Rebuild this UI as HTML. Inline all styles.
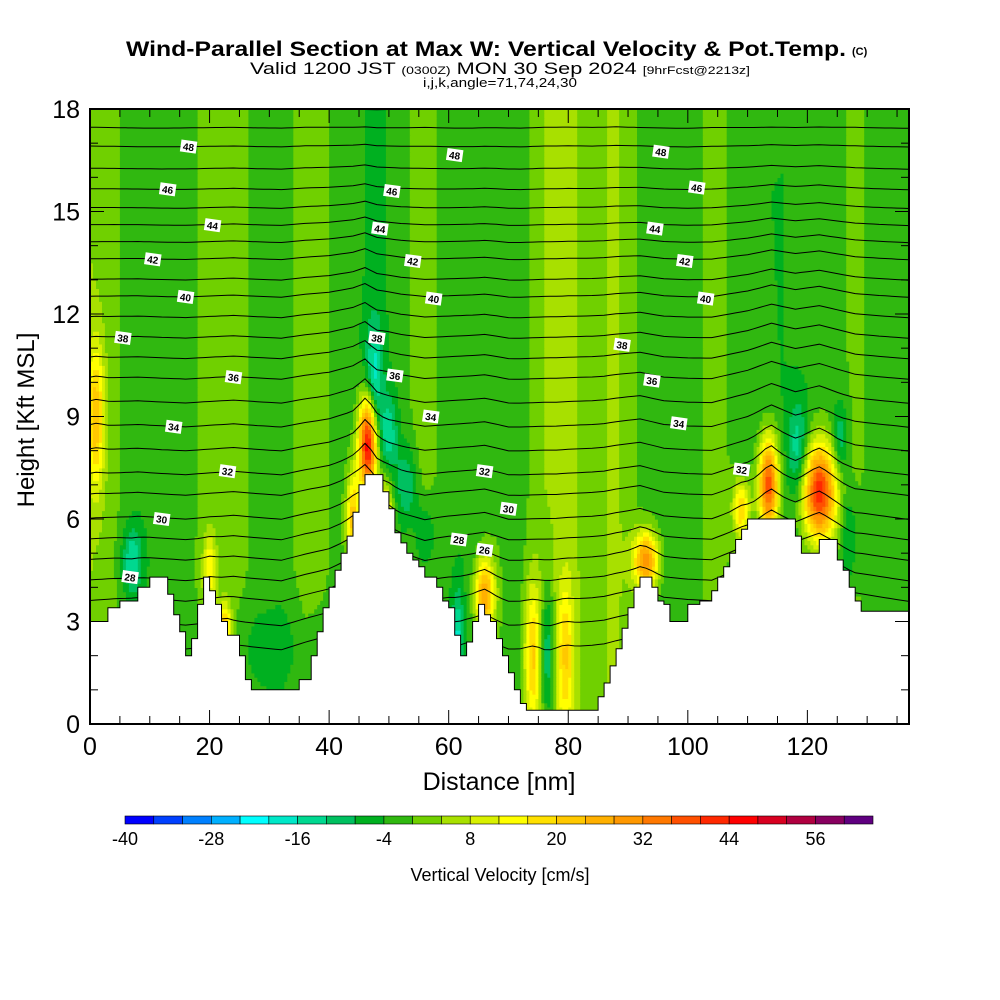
<!DOCTYPE html>
<html><head><meta charset="utf-8"><title>Wind-Parallel Section</title>
<style>
html,body{margin:0;padding:0;background:#fff;}
svg{display:block;font-family:"Liberation Sans",sans-serif;}
</style></head>
<body>
<svg id="chart" width="1000" height="1000" viewBox="0 0 1000 1000" xmlns="http://www.w3.org/2000/svg">
<rect width="1000" height="1000" fill="#fff"/>
<text x="126" y="56" font-size="21" font-weight="bold" textLength="720" lengthAdjust="spacingAndGlyphs">Wind-Parallel Section at Max W: Vertical Velocity &amp; Pot.Temp.</text>
<text x="852" y="55" font-size="11" font-weight="bold">(C)</text>
<text x="250" y="74" font-size="17" textLength="500" lengthAdjust="spacingAndGlyphs">Valid 1200 JST <tspan font-size="11">(0300Z)</tspan> MON 30 Sep 2024 <tspan font-size="11">[9hrFcst@2213z]</tspan></text>
<text x="423" y="87" font-size="13" textLength="154" lengthAdjust="spacingAndGlyphs">i,j,k,angle=71,74,24,30</text>
<defs><clipPath id="plotclip"><rect x="90" y="109" width="819" height="615"/></clipPath></defs>
<g id="field" clip-path="url(#plotclip)"></g>
<g id="contours" clip-path="url(#plotclip)"></g>
<g id="terrain"></g>
<g id="clabels"></g>
<g id="axes"></g>
<g id="colorbar"></g>
<text x="499" y="790" font-size="25" text-anchor="middle">Distance [nm]</text>
<text transform="translate(34,420) rotate(-90)" font-size="24" text-anchor="middle">Height [Kft MSL]</text>
<text x="500" y="881" font-size="18" text-anchor="middle">Vertical Velocity [cm/s]</text>
</svg>
<script>
// ---- data ----
const terrX = [0,3,5,8,10,12,13,14,15,16,17,18,19,20,21,22,23,25,26,27,34,35,37,38,39,40,41,42,43,44,45,46,48,49,50,51,52,53,54,55,56,58,59,60,61,62,63,64,65,66,67,68,69,70,71,72,73,84,85,86,87,88,89,90,91,92,93,94,95,96,97,99,100,102,104,105,106,107,108,109,110,117,118,119,121,122,124,125,126,127,128,129,136,137];
const terrH = [3.0,3.4,3.6,4.0,4.3,4.3,3.8,3.2,2.7,2.0,2.5,3.5,4.3,3.9,3.5,3.0,2.6,2.0,1.3,1.0,1.0,1.3,2.0,2.7,3.4,4.0,4.5,5.0,5.5,6.2,7.0,7.3,7.3,6.8,6.3,5.6,5.3,5.0,4.8,4.6,4.3,4.0,3.6,3.4,2.6,2.0,2.4,3.0,3.5,3.2,3.0,2.5,2.0,1.5,1.0,0.6,0.4,0.4,0.8,1.2,1.7,2.2,2.8,3.4,4.0,4.3,4.3,4.0,3.6,3.5,3.0,3.0,3.5,3.6,3.9,4.3,4.6,5.0,5.4,5.7,6.0,6.0,5.5,5.0,5.0,5.4,5.4,4.8,4.5,4.0,3.6,3.3,3.3,3.0];
// background streak values (cm/s) every 4 nm
const streakX = [0,4,8,12,16,20,24,28,32,36,40,44,48,52,56,60,64,68,72,76,80,84,88,92,96,100,104,108,112,116,120,124,128,132,136];
const streakW = [4,1,-3,-3,-1,1,2,-1,-2,2,0,-3,-5,-2,3,-3,-4,-1,-2,4,5,2,5,-1,-3,-4,2,-1,-4,-4,-3,-2,1,-2,-3];
// localized features: position (nm, kft), peak (cm/s), widths (nm, kft)
const featX  = [46.5,47.5,50,53,56,113.5,122,118.5,125.5,93,66,76.5,74,79.5,7,20,22.5,44,49.5,61.5,1,30,109,127];
const featH  = [8.2,10,8.5,7,5.5,7.0,6.8,8.0,8.3,4.8,3.8,2.0,2.0,2.0,4.8,4.5,2.8,6.0,6.0,2.5,9,2.2,6.3,5.5];
const featW  = [52,-16,-12,-11,-10,42,45,-13,-11,32,30,-15,20,16,-14,15,25,25,24,-14,20,-5,22,-9];
const featSX = [1.1,1.0,1.0,1.2,1.2,1.2,2.0,1.2,0.9,1.5,1.2,0.8,1.0,1.0,1.2,0.8,0.8,0.8,0.8,0.7,1.0,6,1.0,1.0];
const featSH = [1.0,1.2,0.8,0.8,0.8,1.0,1.0,1.0,0.8,0.6,0.8,1.5,1.5,1.5,0.7,0.8,0.5,1.0,0.8,1.0,1.5,1.0,0.6,1.0];
// potential temperature contours
const thetaLevels = [24,25,26,27,28,29,30,31,32,33,34,35,36,37,38,39,40,41,42,43,44,45,46,47,48,49,50];
const thetaBase   = [2.2,2.9,3.6,4.2,4.8,5.4,6.0,6.7,7.3,8.0,8.7,9.4,10.1,10.7,11.3,11.9,12.5,13.0,13.6,14.1,14.6,15.1,15.65,16.25,16.9,17.45,18.0];
const bumpX = [0,8,16,24,32,40,44,46,48,52,56,60,66,70,78,86,92,96,104,110,114,118,122,128,137];
const bumpH = [0,0.1,0,0.1,0,0.3,0.6,0.9,0.5,0.2,0,0.1,0.2,0,0,0.1,0.3,0.1,0,0.4,0.8,0.5,0.7,0.2,0];
const labelTheta = [48,46,44,42,40,38,36,34,32,30,28,48,46,44,42,40,38,36,34,32,30,28,26,48,46,44,42,40,38,36,34,32];
const labelX = [16.5,13,20.5,10.5,16,5.5,24,14,23,12,6.7,61,50.5,48.5,54,57.5,48,51,57,66,70,61.7,66,95.5,101.5,94.5,99.5,103,89,94,98.5,109];
const labelH = [16.9,15.65,14.6,13.6,12.5,11.3,10.15,8.7,7.4,6.0,4.3,16.65,15.6,14.5,13.55,12.45,11.3,10.2,9.0,7.4,6.3,5.4,5.1,16.75,15.7,14.5,13.55,12.45,11.1,10.05,8.8,7.45];
const yTicks = [0,3,6,9,12,15,18];
const xTicks = [0,20,40,60,80,100,120];
const cbarLabels = [-40,-28,-16,-4,8,20,32,44,56];
const cbarColors = ["#0000ff","#0040ff","#0080ff","#00b0ff","#00ffff","#00e8c8","#00d890","#00c060","#00b020","#30b810","#70d000","#a8e000","#d8f000","#ffff00","#ffe000","#ffc800","#ffb000","#ff9800","#ff7800","#ff5000","#ff2800","#ff0000","#d80020","#b00040","#880060","#600080"];

// ---- scales ----
const X0=90, X1=909, Y0=724, Y1=109, XMAX=137, HMAX=18;
const sx = d => X0 + d*(X1-X0)/XMAX;
const sy = h => Y0 - h*(Y0-Y1)/HMAX;
const NS="http://www.w3.org/2000/svg";
function mk(tag, attrs){const e=document.createElementNS(NS,tag);for(const k in attrs)e.setAttribute(k,attrs[k]);return e;}
function interp(xs, ys, x){
  if(x<=xs[0])return ys[0];
  for(let i=1;i<xs.length;i++){ if(x<=xs[i]){const t=(x-xs[i-1])/(xs[i]-xs[i-1]);return ys[i-1]+t*(ys[i]-ys[i-1]);} }
  return ys[ys.length-1];
}
function wAt(d,h){
  let w = interp(streakX, streakW, d);
  for(let i=0;i<featX.length;i++){
    const a=(d-featX[i])/featSX[i], b=(h-featH[i])/featSH[i];
    w += featW[i]*Math.exp(-0.5*(a*a+b*b));
  }
  return w;
}
function colorIdx(w){return Math.max(0,Math.min(cbarColors.length-1,Math.floor((w+40)/4)));}

// ---- field ----
const field=document.getElementById('field');
const dd=0.5, dh=0.125;
for(let h=0; h<HMAX; h+=dh){
  let runStart=0, runCol=-1;
  const nx=Math.round(XMAX/dd);
  for(let i=0;i<=nx;i++){
    const c = i<nx ? colorIdx(wAt(i*dd+dd/2, h+dh/2)) : -2;
    if(c!==runCol){
      if(runCol>=0){
        const r=mk('rect',{x:sx(runStart*dd).toFixed(1),y:sy(h+dh).toFixed(1),width:(sx(i*dd)-sx(runStart*dd)+0.6).toFixed(1),height:(sy(h)-sy(h+dh)+0.6).toFixed(1),fill:cbarColors[runCol]});
        
        
        field.appendChild(r);
      }
      runStart=i; runCol=c;
    }
  }
}

// ---- contours ----
const cg=document.getElementById('contours');
thetaLevels.forEach((th,k)=>{
  const base=thetaBase[k];
  const fac = Math.max(0, 1 - base/18);
  let pts=[];
  for(let d=0; d<=XMAX; d+=1){
    const w = wAt(d, base);
    const h = base + interp(bumpX,bumpH,d)*fac*1.5 + w*0.004;
    pts.push(sx(d).toFixed(1)+','+sy(h).toFixed(1));
  }
  const p=mk('polyline',{points:pts.join(' '),fill:'none',stroke:'#000','stroke-width':1});
  
  
  cg.appendChild(p);
});

// ---- terrain (stair-step) ----
const tg=document.getElementById('terrain');
let tp=[sx(0)+','+sy(0)];
for(let i=0;i<terrX.length;i++){
  const x0=sx(terrX[i]), x1= i+1<terrX.length ? sx(terrX[i+1]) : sx(XMAX);
  tp.push(x0.toFixed(1)+','+sy(terrH[i]).toFixed(1));
  tp.push(x1.toFixed(1)+','+sy(terrH[i]).toFixed(1));
}
tp.push(sx(XMAX)+','+sy(0));
const terr=mk('polygon',{points:tp.join(' '),fill:'#fff',stroke:'#000','stroke-width':1});


tg.appendChild(terr);

// ---- contour labels ----
const lg=document.getElementById('clabels');
labelTheta.forEach((th,i)=>{
  const x=sx(labelX[i]), y=sy(labelH[i]);
  const g=mk('g',{transform:`translate(${x.toFixed(1)},${y.toFixed(1)}) rotate(8)`});
  
  
  g.appendChild(mk('rect',{x:-8,y:-6,width:16,height:12,fill:'#fff'}));
  const t=mk('text',{x:0,y:4,'font-size':10,'font-weight':'bold','text-anchor':'middle'});
  t.textContent=th;
  g.appendChild(t);
  lg.appendChild(g);
});

// ---- axes ----
const ag=document.getElementById('axes');
const frame=mk('rect',{x:X0,y:Y1,width:X1-X0,height:Y0-Y1,fill:'none',stroke:'#000','stroke-width':2});


ag.appendChild(frame);
for(let h=1;h<HMAX;h++){
  const len = h%3===0?14:8;
  ag.appendChild(mk('line',{x1:X0,x2:X0+len,y1:sy(h),y2:sy(h),stroke:'#000','stroke-width':1}));
  ag.appendChild(mk('line',{x1:X1,x2:X1-len,y1:sy(h),y2:sy(h),stroke:'#000','stroke-width':1}));
}
for(let d=5;d<XMAX;d+=5){
  const len = d%20===0?14:8;
  ag.appendChild(mk('line',{x1:sx(d),x2:sx(d),y1:Y0,y2:Y0-len,stroke:'#000','stroke-width':1}));
  ag.appendChild(mk('line',{x1:sx(d),x2:sx(d),y1:Y1,y2:Y1+len,stroke:'#000','stroke-width':1}));
}
yTicks.forEach(v=>{
  const t=mk('text',{x:X0-10,y:sy(v)+9,'font-size':25,'text-anchor':'end'});
  
  
  t.textContent=v; ag.appendChild(t);
});
xTicks.forEach(v=>{
  const t=mk('text',{x:sx(v),y:Y0+31,'font-size':25,'text-anchor':'middle'});
  
  
  t.textContent=v; ag.appendChild(t);
});

// ---- colorbar ----
const cb=document.getElementById('colorbar');
const CB0=125, CB1=873, bw=(CB1-CB0)/cbarColors.length;
cbarColors.forEach((c,i)=>{
  const r=mk('rect',{x:(CB0+i*bw).toFixed(2),y:816,width:bw.toFixed(2),height:8,fill:c,stroke:'#000','stroke-width':0.6});
  
  
  cb.appendChild(r);
});
cbarLabels.forEach(v=>{
  const x=CB0+((v+40)/4)*bw;
  const t=mk('text',{x:x,y:845,'font-size':18,'text-anchor':'middle'});
  
  
  t.textContent=v; cb.appendChild(t);
});
</script>
</body></html>
